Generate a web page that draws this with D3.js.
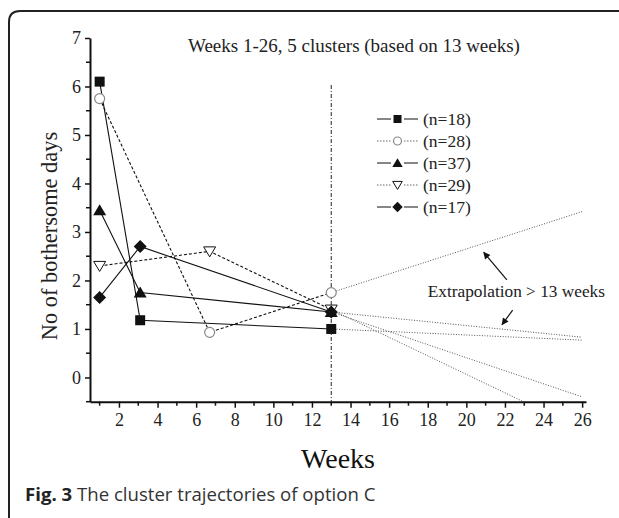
<!DOCTYPE html>
<html>
<head>
<meta charset="utf-8">
<script src="https://cdn.jsdelivr.net/npm/d3@7"></script>
<style>
  body { margin: 0; background: #fff; }
  svg { display: block; }
</style>
</head>
<body>
<div id="chart"></div>
<script>
// weeks measured for each cluster
const weeksSolid = [1, 3.1, 13];
const weeksDashed = [1, 6.7, 13];

const seriesNames = ["(n=18)", "(n=28)", "(n=37)", "(n=29)", "(n=17)"];
const sqValues = [6.1, 1.18, 1.0];       // n=18
const circValues = [5.75, 0.93, 1.75];   // n=28
const triValues = [3.45, 1.75, 1.35];    // n=37
const dtriValues = [2.3, 2.6, 1.4];      // n=29
const diaValues = [1.65, 2.7, 1.35];     // n=17

// extrapolated value at week 26
const extrapWeek = 26;
const extrapEnd = [0.77, 3.42, 0.83, -1.08, -0.4];

const xTicks = [2, 4, 6, 8, 10, 12, 14, 16, 18, 20, 22, 24, 26];
const yTicks = [0, 1, 2, 3, 4, 5, 6, 7];

main();

function main() {
  const width = 619;
  const height = 518;

  const svg = d3.select("#chart")
    .append("svg")
    .attr("width", width)
    .attr("height", height);

  // rounded frame, open on the right and bottom
  svg.append("path")
    .attr("d", "M9,518 L9,22 Q9,11 20,11 L619,11")
    .attr("fill", "none")
    .attr("stroke", "#222")
    .attr("stroke-width", 2);

  const x = d3.scaleLinear().domain([0.5, 26.2]).range([90, 586]);
  const y = d3.scaleLinear().domain([-0.5, 7]).range([401.7, 38]);

  const serif = "'Liberation Serif', 'Times New Roman', serif";

  svg.append("clipPath").attr("id", "plot")
    .append("rect")
    .attr("x", x(0.5)).attr("y", y(7))
    .attr("width", x(26.2) - x(0.5)).attr("height", y(-0.5) - y(7));

  // axes
  const yAxis = svg.append("g")
    .attr("transform", `translate(${x(0.5)},0)`)
    .call(d3.axisLeft(y).tickValues(yTicks).tickSize(5).tickSizeOuter(0).tickPadding(4));
  yAxis.append("g").selectAll("line")
    .data(d3.range(-0.5, 7, 1))
    .join("line")
    .attr("x1", -4).attr("x2", 0)
    .attr("y1", d => y(d)).attr("y2", d => y(d))
    .attr("stroke", "#111").attr("stroke-width", 1.5);

  const xAxis = svg.append("g")
    .attr("transform", `translate(0,${y(-0.5)})`)
    .call(d3.axisBottom(x).tickValues(xTicks).tickSize(6).tickSizeOuter(0).tickPadding(6));
  xAxis.append("g").selectAll("line")
    .data(d3.range(1, 26, 2))
    .join("line")
    .attr("x1", d => x(d)).attr("x2", d => x(d))
    .attr("y1", 0).attr("y2", 4)
    .attr("stroke", "#111").attr("stroke-width", 1.5);

  [yAxis, xAxis].forEach(a => {
    a.attr("font-size", 18).attr("font-family", serif);
    a.select(".domain").attr("stroke", "#111").attr("stroke-width", 2);
    a.selectAll(".tick line").attr("stroke", "#111").attr("stroke-width", 1.5);
    a.selectAll(".tick text")
      .attr("font-family", serif).attr("font-size", 18).attr("fill", "#222");
  });

  // vertical dash-dot at week 13
  svg.append("line")
    .attr("x1", x(13)).attr("x2", x(13))
    .attr("y1", y(6.03)).attr("y2", y(-0.5))
    .attr("stroke", "#222").attr("stroke-width", 1)
    .attr("stroke-dasharray", "4,2,1,2");

  const series = [
    { weeks: weeksSolid, values: sqValues, dash: null, sym: "square" },
    { weeks: weeksDashed, values: circValues, dash: "3,2", sym: "circle" },
    { weeks: weeksSolid, values: triValues, dash: null, sym: "tri" },
    { weeks: weeksDashed, values: dtriValues, dash: "3,2", sym: "dtri" },
    { weeks: weeksSolid, values: diaValues, dash: null, sym: "diamond" }
  ];

  // extrapolation lines
  const plot = svg.append("g").attr("clip-path", "url(#plot)");
  series.forEach((s, i) => {
    const last = s.values.length - 1;
    plot.append("line")
      .attr("x1", x(s.weeks[last])).attr("y1", y(s.values[last]))
      .attr("x2", x(extrapWeek)).attr("y2", y(extrapEnd[i]))
      .attr("stroke", "#555").attr("stroke-width", 1)
      .attr("stroke-dasharray", "1,1.6");
  });

  const line = d3.line();
  series.forEach(s => {
    const pts = s.weeks.map((w, j) => [x(w), y(s.values[j])]);
    svg.append("path")
      .attr("d", line(pts))
      .attr("fill", "none")
      .attr("stroke", "#111")
      .attr("stroke-width", 1.1)
      .attr("stroke-dasharray", s.dash);
  });

  series.forEach(s => {
    s.weeks.forEach((w, j) => drawMarker(svg, s.sym, x(w), y(s.values[j]), 1));
  });

  // title
  svg.append("text")
    .attr("x", 188).attr("y", 52)
    .attr("font-family", serif).attr("font-size", 19).attr("fill", "#222")
    .text("Weeks 1-26, 5 clusters (based on 13 weeks)");

  // legend
  const legend = svg.append("g");
  series.forEach((s, i) => {
    const cy = 119 + i * 22;
    legend.append("line")
      .attr("x1", 377).attr("x2", 418)
      .attr("y1", cy).attr("y2", cy)
      .attr("stroke", s.dash ? "#555" : "#111")
      .attr("stroke-width", s.dash ? 0.9 : 1.1)
      .attr("stroke-dasharray", s.dash ? "1.5,1.5" : null);
    legend.append("rect")
      .attr("x", 391).attr("y", cy - 6).attr("width", 13).attr("height", 12)
      .attr("fill", "#fff");
    drawMarker(legend, s.sym, 397.5, cy, 0.8);
    legend.append("text")
      .attr("x", 423).attr("y", cy + 6)
      .attr("font-family", serif).attr("font-size", 17.5).attr("fill", "#222")
      .text(seriesNames[i]);
  });

  // annotation
  svg.append("text")
    .attr("x", x(18.0)).attr("y", y(1.65))
    .attr("font-family", serif).attr("font-size", 17.3).attr("fill", "#222")
    .text("Extrapolation > 13 weeks");

  const defs = svg.append("defs");
  defs.append("marker")
    .attr("id", "arrow")
    .attr("viewBox", "0 0 10 10")
    .attr("refX", 9).attr("refY", 5)
    .attr("markerWidth", 9).attr("markerHeight", 7)
    .attr("markerUnits", "userSpaceOnUse")
    .attr("orient", "auto")
    .append("path")
    .attr("d", "M0,0 L10,5 L0,10 Z")
    .attr("fill", "#111");

  const arrows = [
    [[22.1, 2.01], [20.9, 2.58]],
    [[22.4, 1.39], [21.85, 1.09]]
  ];
  arrows.forEach(a => {
    svg.append("line")
      .attr("x1", x(a[0][0])).attr("y1", y(a[0][1]))
      .attr("x2", x(a[1][0])).attr("y2", y(a[1][1]))
      .attr("stroke", "#111").attr("stroke-width", 1.2)
      .attr("marker-end", "url(#arrow)");
  });

  // axis titles
  svg.append("text")
    .attr("transform", `translate(57,${236}) rotate(-90)`)
    .attr("text-anchor", "middle")
    .attr("font-family", serif).attr("font-size", 22.4).attr("fill", "#222")
    .text("No of bothersome days");

  svg.append("text")
    .attr("x", 338).attr("y", 468)
    .attr("text-anchor", "middle")
    .attr("font-family", serif).attr("font-size", 28).attr("fill", "#111")
    .text("Weeks");

  // caption
  const cap = svg.append("text")
    .attr("x", 25).attr("y", 501)
    .attr("font-family", "'Open Sans', 'Noto Sans', sans-serif")
    .attr("font-size", 18.6).attr("fill", "#333");
  cap.append("tspan").attr("font-weight", "bold").attr("fill", "#222").text("Fig. 3");
  cap.append("tspan").text(" The cluster trajectories of option C");
}

function drawMarker(g, sym, cx, cy, k) {
  if (sym === "square") {
    g.append("rect")
      .attr("x", cx - 5 * k).attr("y", cy - 5 * k)
      .attr("width", 10 * k).attr("height", 10 * k)
      .attr("fill", "#111");
  } else if (sym === "circle") {
    g.append("circle")
      .attr("cx", cx).attr("cy", cy).attr("r", 5 * k)
      .attr("fill", "#fff").attr("stroke", "#888").attr("stroke-width", 1.2);
  } else if (sym === "tri") {
    g.append("path")
      .attr("d", `M${cx},${cy - 6 * k} L${cx + 6.5 * k},${cy + 5 * k} L${cx - 6.5 * k},${cy + 5 * k} Z`)
      .attr("fill", "#111");
  } else if (sym === "dtri") {
    g.append("path")
      .attr("d", `M${cx},${cy + 5.5 * k} L${cx + 6 * k},${cy - 4.5 * k} L${cx - 6 * k},${cy - 4.5 * k} Z`)
      .attr("fill", "#fff").attr("stroke", "#111").attr("stroke-width", 1);
  } else {
    g.append("path")
      .attr("d", `M${cx},${cy - 6.5 * k} L${cx + 6.5 * k},${cy} L${cx},${cy + 6.5 * k} L${cx - 6.5 * k},${cy} Z`)
      .attr("fill", "#111");
  }
}
</script>
</body>
</html>
